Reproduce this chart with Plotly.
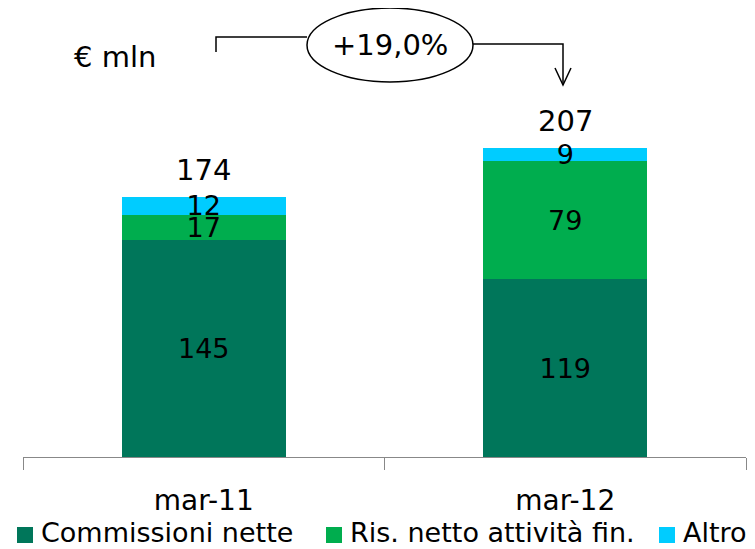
import plotly.graph_objects as go

categories = ["mar-11", "mar-12"]
series_names = ["Commissioni nette", "Ris. netto attività fin.", "Altro"]
commissioni = [145, 119]
ris_netto = [17, 79]
altro = [12, 9]
totals = [174, 207]
growth_label = "+19,0%"
unit_label = "€ mln"

colors = ["#00765A", "#00AD4E", "#00CCFF"]
FONT = "DejaVu Sans"

OFF = 8  # page body margin
W, H = 755 - OFF, 549 - OFF
L, R, T, B = 23 - OFF, 9, 100 - OFF, 92
PW, PH = W - L - R, H - T - B


def px(x):
    return (x - OFF - L) / PW


def py(y):
    return (H - B - (y - OFF)) / PH


fig = go.Figure()
for name, vals, col in zip(series_names, [commissioni, ris_netto, altro], colors):
    fig.add_trace(go.Bar(
        x=categories, y=vals, name=name, marker=dict(color=col, line=dict(width=0)),
        width=0.455, text=[str(v) for v in vals], texttemplate="%{text}",
        textposition="inside", insidetextanchor="middle", textangle=0,
        textfont=dict(color="black", size=27, family=FONT),
        showlegend=False, hoverinfo="skip"))

for c, t in zip(categories, totals):
    fig.add_annotation(x=c, y=t, xref="x", yref="y", text=str(t), showarrow=False,
                       yanchor="middle", yshift=27,
                       font=dict(size=29, color="black", family=FONT))

fig.add_annotation(x=px(115), y=py(57), xref="paper", yref="paper", text=unit_label,
                   showarrow=False, xanchor="center", yanchor="middle",
                   font=dict(size=29, color="black", family=FONT))
fig.add_annotation(x=px(390), y=py(45), xref="paper", yref="paper", text=growth_label,
                   showarrow=False, xanchor="center", yanchor="middle",
                   font=dict(size=29, color="black", family=FONT))

line = dict(color="black", width=1.5)
fig.add_shape(type="circle", xref="paper", yref="paper",
              x0=px(307), x1=px(473), y0=py(82), y1=py(8), line=line)
fig.add_shape(type="path", xref="paper", yref="paper",
              path=f"M {px(216)},{py(52)} L {px(216)},{py(37)} L {px(307)},{py(37)}",
              line=line)
fig.add_shape(type="path", xref="paper", yref="paper",
              path=f"M {px(473)},{py(44)} L {px(563)},{py(44)} L {px(563)},{py(85)}",
              line=line)
fig.add_shape(type="path", xref="paper", yref="paper",
              path=f"M {px(555)},{py(68)} L {px(563)},{py(85)} L {px(571)},{py(68)}",
              line=line)

# legend (drawn manually to keep the reference's tight single-row spacing)
legend_sq_x = [17, 326, 659]
for name, col, sx in zip(series_names, colors, legend_sq_x):
    fig.add_shape(type="rect", xref="paper", yref="paper",
                  x0=px(sx), x1=px(sx + 16), y0=py(543), y1=py(527),
                  fillcolor=col, line=dict(width=0))
    fig.add_annotation(x=px(sx + 22), y=py(532), xref="paper", yref="paper",
                       text=name, showarrow=False, xanchor="left", yanchor="middle",
                       font=dict(size=27, color="black", family=FONT))

fig.update_layout(
    width=W, height=H, barmode="stack",
    margin=dict(l=L, r=R, t=T, b=B, autoexpand=False),
    paper_bgcolor="white", plot_bgcolor="white",
    font=dict(family=FONT, color="black"),
    uniformtext=dict(minsize=27, mode="show"),
    xaxis=dict(type="category", range=[-0.5, 1.5], showline=True, linecolor="#888888",
               linewidth=1.2, ticks="outside", tickson="boundaries", ticklen=12,
               tickcolor="#888888", tickwidth=1.2, showgrid=False,
               tickfont=dict(size=28, family=FONT, color="black"), ticklabelstandoff=18),
    yaxis=dict(range=[0, PH / ((457 - 197) / 174)], visible=False, showgrid=False),
    showlegend=False,
)

fig.write_html("out.html")
